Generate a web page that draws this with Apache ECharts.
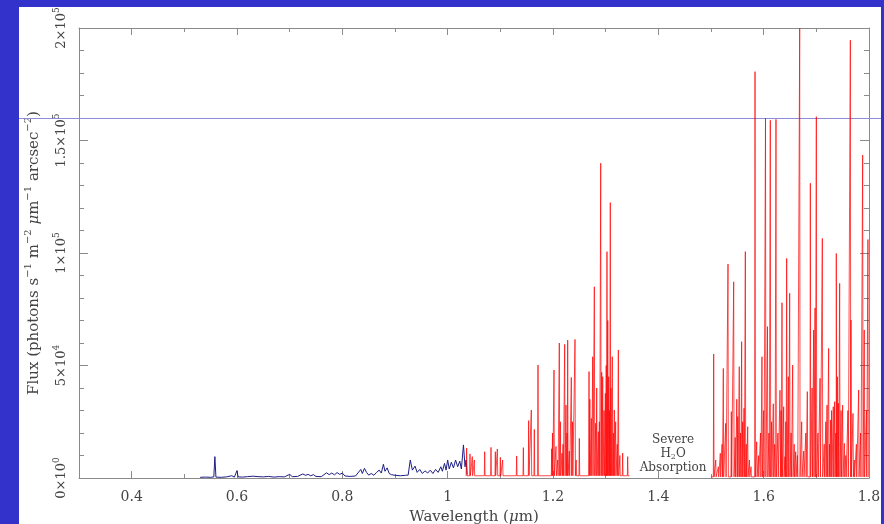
<!DOCTYPE html>
<html><head><meta charset="utf-8">
<script src="https://cdn.jsdelivr.net/npm/echarts@6/dist/echarts.min.js"></script>
<style>html,body{margin:0;padding:0;background:#3333cc}#c{width:884px;height:524px}</style>
</head><body><div id="c"></div>
<script>
// ---------- data ----------
const xMajorTicks = [0.4, 0.6, 0.8, 1.0, 1.2, 1.4, 1.6, 1.8];
const xMinorTicks = [0.3, 0.5, 0.7, 0.9, 1.1, 1.3, 1.5, 1.7];
const yTickValues = [0, 50000, 100000, 150000, 200000];
const yTickMantissa = ['0', '5', '1', '1.5', '2'];
const yTickExponent = ['0', '4', '5', '5', '5'];
const refLevel = 160000;
const noteLines = ['Severe', 'H2O', 'Absorption'];
const notePos = [1.428, 1500];

const blueWave = [0.530,0.540,0.550,0.556,0.558,0.560,0.570,0.580,0.590,0.595,0.600,0.602,0.610,0.620,0.630,0.632,0.640,0.650,0.660,0.670,0.680,0.690,0.700,0.705,0.715,0.725,0.730,0.735,0.740,0.745,0.750,0.760,0.770,0.775,0.780,0.785,0.790,0.795,0.800,0.805,0.815,0.825,0.835,0.838,0.842,0.846,0.850,0.855,0.860,0.865,0.870,0.874,0.878,0.881,0.885,0.889,0.893,0.900,0.910,0.920,0.925,0.929,0.933,0.938,0.942,0.947,0.952,0.957,0.962,0.967,0.972,0.977,0.982,0.987,0.990,0.994,0.997,1.000,1.003,1.007,1.011,1.015,1.019,1.023,1.026,1.030,1.033,1.035,1.037];
const blueFlux = [300,400,300,500,9500,400,300,500,1000,400,3300,500,400,600,800,1300,600,500,700,400,600,500,1600,600,700,1800,1200,1600,1000,1500,700,600,2300,1500,2200,1400,2400,1600,2200,900,700,900,3800,2000,4300,2500,1300,2000,1200,2500,3500,2200,6100,3000,4500,2000,1500,1200,1000,1200,1300,8000,3500,5300,2500,3800,2000,3200,2200,3500,2000,3800,2500,5000,3000,6500,3500,8000,4000,7000,4500,8000,5000,7500,4000,14700,5000,8000,1500];

const redJWave = [1.036,1.0424,1.0468,1.0506,1.0703,1.0823,1.0905,1.0943,1.1000,1.1044,1.131,1.1437,1.1538,1.1588,1.1645,1.1715,1.1975,1.199,1.2019,1.2057,1.209,1.212,1.214,1.2171,1.219,1.2222,1.2247,1.2265,1.2279,1.231,1.2348,1.237,1.2418,1.244,1.25,1.2684,1.270,1.2728,1.2754,1.2785,1.2811,1.283,1.2861,1.288,1.2906,1.2925,1.2944,1.297,1.2994,1.301,1.3025,1.304,1.3057,1.307,1.3088,1.310,1.3126,1.3145,1.3164,1.319,1.322,1.3241,1.327,1.3323,1.3418];
const redJPeak = [13300,10700,9500,8000,11700,13600,11700,12900,9200,8000,9800,13500,25500,30200,21600,50200,13000,20000,48000,14000,8000,60000,25000,11000,15000,59400,32400,20000,61300,12000,44700,25000,61600,8000,17600,47300,35000,26500,53900,85000,24400,40000,20600,25000,139900,47000,45000,30000,37600,50000,100600,70000,45000,30000,122400,40000,53900,20000,30200,25000,15000,56900,10000,11100,9500];

const redHWave = [1.5051,1.509,1.514,1.5177,1.521,1.5234,1.5279,1.5323,1.5386,1.5431,1.546,1.549,1.5507,1.5537,1.556,1.5582,1.560,1.5627,1.5652,1.567,1.5697,1.573,1.576,1.5836,1.5868,1.590,1.594,1.5968,1.600,1.6035,1.6072,1.6100,1.6126,1.615,1.6183,1.621,1.6234,1.627,1.631,1.633,1.6348,1.638,1.6405,1.642,1.6437,1.6468,1.6494,1.652,1.6551,1.658,1.6608,1.664,1.6684,1.6722,1.676,1.680,1.6829,1.6886,1.692,1.6949,1.6975,1.700,1.703,1.707,1.7114,1.715,1.718,1.7203,1.7234,1.725,1.7272,1.729,1.7322,1.7348,1.737,1.7379,1.740,1.7418,1.7443,1.747,1.750,1.7532,1.756,1.760,1.7646,1.7658,1.7696,1.772,1.776,1.7804,1.784,1.788,1.791,1.795,1.798];
const redHPeak = [55100,8000,5000,11000,15000,48700,24300,95100,29500,87200,18000,35000,27300,49500,20000,60600,25000,31000,100600,15000,22800,8000,5000,180600,16100,10000,20000,53900,30000,159900,67300,20000,159000,25000,33000,15000,159400,20000,39000,30000,77900,31700,9500,25000,97600,45000,82100,20000,50200,15000,11700,10000,199900,25000,12000,20000,38400,131000,40000,65800,75600,160600,20000,44300,106500,15000,25000,32400,57600,15000,25800,30000,31700,33900,20000,99800,45000,33200,86500,30000,32400,15400,10000,30000,194600,70200,28700,8000,15000,39100,20000,143500,65800,30000,106000];

// ---------- build ----------
const FONT = "'DejaVu Serif', 'Liberation Serif', serif";
const TXT = '#444';
const AX = '#8a8a8a';
const HW = 0.0007;
function spikes(waves, peaks, base, start, end) {
  const d = [[start, base]];
  waves.forEach((w, i) => { d.push([w - HW, base], [w, peaks[i]], [w + HW, base]); });
  d.push([end, base]);
  return d;
}
const blueData = blueWave.map((w, i) => [w, blueFlux[i]]);
const redJData = spikes(redJWave, redJPeak, 1000, 1.035, 1.345);
const redHData = spikes(redHWave, redHPeak, 500, 1.500, 1.800);

const gridBox = {left: 79, right: 15, top: 28, bottom: 46, containLabel: false, outerBoundsMode: 'none'};
const xFmt = v => String(+(+v).toFixed(1));
const supRich = {
  m: {fontFamily: FONT, fontSize: 13, color: TXT, lineHeight: 20},
  e: {fontFamily: FONT, fontSize: 9, color: TXT, lineHeight: 20, verticalAlign: 'top', padding: [0, 0, 7, 0]}
};

const chart = echarts.init(document.getElementById('c'));
chart.setOption({
  backgroundColor: '#3333cc',
  animation: false,
  grid: [Object.assign({}, gridBox), Object.assign({}, gridBox)],
  xAxis: [
    {type: 'value', gridIndex: 0, min: 0.3, max: 1.8, position: 'bottom',
      axisLine: {show: true, onZero: false, lineStyle: {color: AX}},
      axisTick: {show: true, inside: true, length: 7, customValues: xMajorTicks, lineStyle: {color: AX}},
      axisLabel: {customValues: xMajorTicks, formatter: xFmt, color: TXT, fontFamily: FONT, fontSize: 14, margin: 12},
      splitLine: {show: false},
      name: 'Wavelength ({mu|μ}m)', nameLocation: 'middle', nameGap: 32,
      nameTextStyle: {color: TXT, fontFamily: FONT, fontSize: 15,
        rich: {mu: {fontFamily: FONT, fontSize: 15, fontStyle: 'italic', color: TXT}}}},
    {type: 'value', gridIndex: 0, min: 0.3, max: 1.8, position: 'top',
      axisLine: {show: true, onZero: false, lineStyle: {color: AX}},
      axisTick: {show: true, inside: true, length: 7, customValues: xMajorTicks, lineStyle: {color: AX}},
      axisLabel: {show: false}, splitLine: {show: false}},
    {type: 'value', gridIndex: 1, min: 0.3, max: 1.8, position: 'bottom',
      axisLine: {show: false, onZero: false},
      axisTick: {show: true, inside: true, length: 4, customValues: xMinorTicks, lineStyle: {color: AX}},
      axisLabel: {show: false}, splitLine: {show: false}},
    {type: 'value', gridIndex: 1, min: 0.3, max: 1.8, position: 'top',
      axisLine: {show: false, onZero: false},
      axisTick: {show: true, inside: true, length: 4, customValues: xMinorTicks, lineStyle: {color: AX}},
      axisLabel: {show: false}, splitLine: {show: false}}
  ],
  yAxis: [
    {type: 'value', gridIndex: 0, min: 0, max: 200000, interval: 50000, position: 'left',
      axisLine: {show: true, onZero: false, lineStyle: {color: AX}},
      axisTick: {show: true, inside: true, length: 9, lineStyle: {color: AX}},
      minorTick: {show: true, splitNumber: 5, length: 5, lineStyle: {color: AX}},
      splitLine: {show: false},
      axisLabel: {rotate: 90, margin: 7, customValues: yTickValues,
        formatter: v => { const i = yTickValues.indexOf(v); return '{m|' + yTickMantissa[i] + '×10}{e|' + yTickExponent[i] + '}'; },
        rich: supRich},
      name: '{t|Flux (photons s}{e|−1}{t| m}{e|−2}{t| }{mu|μ}{t|m}{e|−1}{t| arcsec}{e|−2}{t|)}',
      nameLocation: 'middle', nameGap: 34, nameRotate: 90,
      nameTextStyle: {color: TXT, fontFamily: FONT, fontSize: 15,
        rich: {
          t: {fontFamily: FONT, fontSize: 15, color: TXT, lineHeight: 22},
          mu: {fontFamily: FONT, fontSize: 15, fontStyle: 'italic', color: TXT, lineHeight: 22},
          e: {fontFamily: FONT, fontSize: 10, color: TXT, lineHeight: 22, verticalAlign: 'top', padding: [0, 0, 8, 0]}
        }}},
    {type: 'value', gridIndex: 0, min: 0, max: 200000, interval: 50000, position: 'right',
      axisLine: {show: true, onZero: false, lineStyle: {color: AX}},
      axisTick: {show: true, inside: true, length: 9, lineStyle: {color: AX}},
      minorTick: {show: true, splitNumber: 5, length: 5, lineStyle: {color: AX}},
      splitLine: {show: false}, axisLabel: {show: false}},
    {type: 'value', gridIndex: 1, min: 0, max: 200000, show: false}
  ],
  series: [
    {type: 'line', xAxisIndex: 0, yAxisIndex: 0, data: blueData, showSymbol: false, symbol: 'none',
      lineStyle: {color: '#1e1e86', width: 1}, z: 3},
    {type: 'line', xAxisIndex: 0, yAxisIndex: 0, data: redJData, showSymbol: false, symbol: 'none',
      lineStyle: {color: 'rgba(255,0,0,0.7)', width: 1}, z: 3},
    {type: 'line', xAxisIndex: 0, yAxisIndex: 0, data: redHData, showSymbol: false, symbol: 'none',
      lineStyle: {color: 'rgba(255,0,0,0.7)', width: 1}, z: 3}
  ]
});

// overlay: white panel, reference level line, annotation
const refY = Math.round(chart.convertToPixel({xAxisIndex: 0, yAxisIndex: 0}, [1, refLevel])[1]) + 0.5;
const noteXY = chart.convertToPixel({xAxisIndex: 0, yAxisIndex: 0}, notePos);
chart.setOption({
  graphic: [
    {type: 'rect', z: -100, silent: true, shape: {x: 19, y: 7, width: 862, height: 517}, style: {fill: '#ffffff'}},
    {type: 'line', z: 1, silent: true, shape: {x1: 19, y1: refY, x2: 881, y2: refY}, style: {stroke: '#8c8cd8', lineWidth: 1}},
    {type: 'text', z: 10, silent: true, x: noteXY[0], y: noteXY[1],
      style: {
        text: '{n|' + noteLines[0] + '}\n{n|H}{s|2}{n|O}\n{n|' + noteLines[2] + '}',
        align: 'center', verticalAlign: 'bottom',
        rich: {
          n: {fontFamily: FONT, fontSize: 12, fill: TXT, lineHeight: 14, align: 'center'},
          s: {fontFamily: FONT, fontSize: 8, fill: TXT, lineHeight: 14, verticalAlign: 'bottom', padding: [4, 0, 0, 0]}
        }
      }}
  ]
});
</script></body></html>
